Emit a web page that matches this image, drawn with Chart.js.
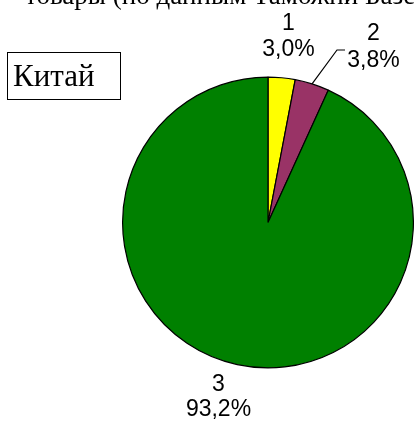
<!DOCTYPE html>
<html>
<head>
<meta charset="utf-8">
<script src="https://cdn.jsdelivr.net/npm/chart.js@4/dist/chart.umd.min.js"></script>
<style>
  html, body { margin: 0; padding: 0; background: #fff; }
  #wrap { position: relative; width: 414px; height: 426px; overflow: hidden; }
  #c { position: absolute; left: 0; top: 0; }
  #title { position: absolute; left: 25px; top: -20px; white-space: nowrap;
           font-family: "Liberation Serif", "Times New Roman", serif; font-size: 27px; line-height: 30px; color: #000; }
  #box { position: absolute; left: 7px; top: 52px; width: 112px; height: 46px; border: 1px solid #000;
         font-family: "Liberation Serif", "Times New Roman", serif; font-size: 31px; line-height: 46px; color: #000; }
  #box span { position: absolute; left: 5px; top: 0; }
</style>
</head>
<body>
<div id="wrap">
  <canvas id="c" width="414" height="426"></canvas>
  <div id="title">товары (по данным Таможни Базе</div>
  <div id="box"><span>Китай</span></div>
</div>
<script>
const categories = ['1', '2', '3'];
const shares = [3.0, 3.8, 93.2];
const sliceColors = ['#FFFF00', '#993366', '#008000'];

function fmtPct(v) { return v.toFixed(1).replace('.', ',') + '%'; }

// label placement (pixel centres of two-line labels) – layout only
const labelPos = [
  { x: 288.5, y1: 23.5, y2: 50 },
  { x: 373.5, y1: 34, y2: 60.5, leader: { x1: 337, y1: 50, x2: 345, y2: 50 } },
  { x: 218.5, y1: 384.5, y2: 410 }
];

const labelPlugin = {
  id: 'pieLabels',
  afterDatasetsDraw(chart) {
    const ctx = chart.ctx;
    const meta = chart.getDatasetMeta(0);
    ctx.save();
    ctx.fillStyle = '#000';
    ctx.font = '23px "Liberation Sans", Arial, sans-serif';
    ctx.textAlign = 'center';
    ctx.textBaseline = 'middle';
    const total = shares.reduce((a, b) => a + b, 0);
    meta.data.forEach((arc, i) => {
      const p = labelPos[i];
      ctx.fillText(categories[i], p.x, p.y1);
      ctx.fillText(fmtPct(shares[i] / total * 100), p.x, p.y2);
      if (p.leader) {
        const props = arc.getProps(['x', 'y', 'startAngle', 'endAngle', 'outerRadius'], true);
        const mid = (props.startAngle + props.endAngle) / 2;
        const ex = props.x + props.outerRadius * Math.cos(mid);
        const ey = props.y + props.outerRadius * Math.sin(mid);
        ctx.beginPath();
        ctx.strokeStyle = '#000';
        ctx.lineWidth = 1.2;
        ctx.moveTo(ex, ey);
        ctx.lineTo(p.leader.x1, p.leader.y1);
        ctx.lineTo(p.leader.x2, p.leader.y2);
        ctx.stroke();
      }
    });
    ctx.restore();
  }
};

new Chart(document.getElementById('c'), {
  type: 'pie',
  data: {
    labels: categories,
    datasets: [{
      data: shares,
      backgroundColor: sliceColors,
      borderColor: '#000000',
      borderWidth: 1.2
    }]
  },
  options: {
    responsive: false,
    animation: false,
    events: [],
    layout: { padding: { left: 122, right: 0, top: 76, bottom: 57 } },
    plugins: {
      legend: { display: false },
      tooltip: { enabled: false },
      title: { display: false }
    }
  },
  plugins: [labelPlugin]
});
</script>
</body>
</html>
